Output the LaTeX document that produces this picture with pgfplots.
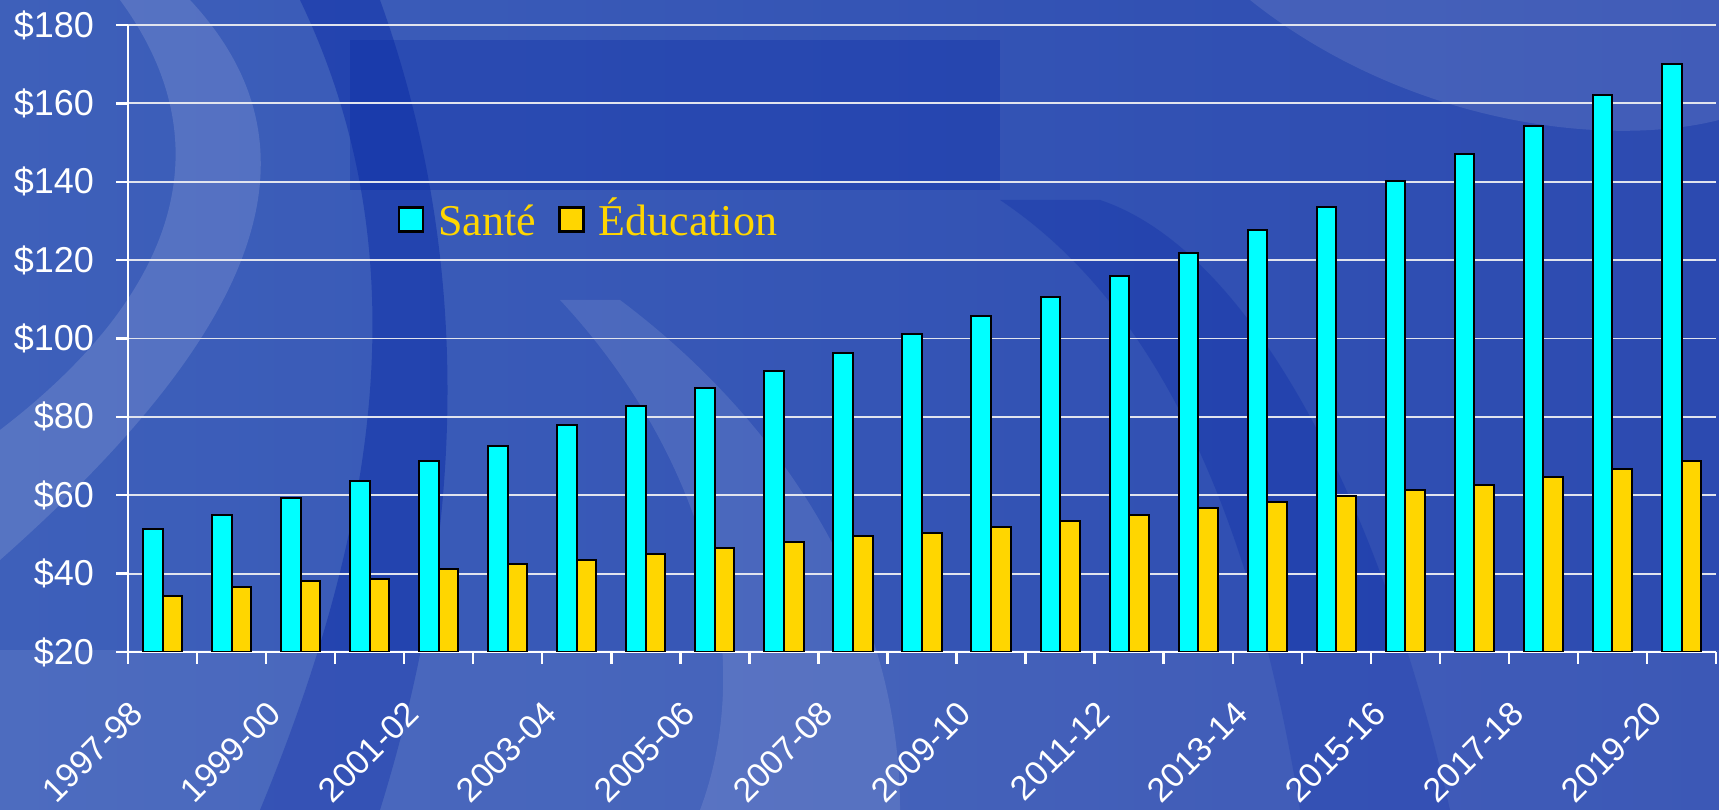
\documentclass[border=0pt]{standalone}
\usepackage{pgfplots}
\pgfplotsset{compat=1.18}
\usepackage{fontspec}
\setmainfont{Liberation Sans}
\newfontfamily\legendfont{Liberation Serif}

\definecolor{bgA}{RGB}{62,96,186}
\definecolor{bgB}{RGB}{26,58,170}
\definecolor{bgC}{RGB}{44,74,176}
\definecolor{bgDark}{RGB}{8,40,165}
\definecolor{sante}{RGB}{0,255,255}
\definecolor{educ}{RGB}{255,214,0}
\definecolor{gridc}{RGB}{225,228,238}

\pgfplotstableread{
idx sante educ
0  51.5 34.2
1  54.9 36.7
2  59.2 38.1
3  63.7 38.5
4  68.7 41.1
5  72.6 42.5
6  78.0 43.5
7  82.9 45.0
8  87.4 46.5
9  91.8 48.1
10 96.3 49.5
11 101.2 50.4
12 105.7 51.9
13 110.5 53.4
14 116.0 54.9
15 121.8 56.8
16 127.7 58.4
17 133.5 59.8
18 140.1 61.3
19 147.0 62.7
20 154.3 64.7
21 162.1 66.7
22 170.0 68.8
}\data

\begin{document}
\begin{tikzpicture}
% background (pixel grid of the reference, y down)
\useasboundingbox (0,0) rectangle (429.75pt,202.5pt);
\shade[left color=bgA, middle color=bgB, right color=bgC] (0,0) rectangle (429.75pt,202.5pt);
\begin{scope}[shift={(0,202.5pt)}, x=0.25pt, y=-0.25pt]
  \fill[white, opacity=0.13] (190,0) .. controls (330,150) and (260,330) .. (0,560)
    -- (0,430) .. controls (170,300) and (230,150) .. (120,0) -- cycle;
  \fill[bgDark, opacity=0.45] (300,0) .. controls (420,250) and (380,520) .. (260,810)
    -- (380,810) .. controls (470,520) and (470,250) .. (380,0) -- cycle;
  \fill[bgDark, opacity=0.3] (350,40) rectangle (1000,190);
  \fill[white, opacity=0.10] (560,300) .. controls (700,450) and (760,650) .. (700,810)
    -- (900,810) .. controls (900,600) and (780,420) .. (620,300) -- cycle;
  \fill[white, opacity=0.10] (1250,0) .. controls (1400,120) and (1600,150) .. (1719,120)
    -- (1719,0) -- cycle;
  \fill[bgDark, opacity=0.30] (1000,200) .. controls (1150,300) and (1250,500) .. (1300,810)
    -- (1450,810) .. controls (1380,500) and (1250,250) .. (1100,200) -- cycle;
  \fill[white, opacity=0.08] (0,650) rectangle (1719,810);
\end{scope}

\begin{axis}[
    at={(32pt,39.5pt)}, anchor=south west,
    scale only axis,
    width=397pt, height=156.75pt,
    ybar=0pt, bar width=4.9pt,
    xmin=-0.5, xmax=22.5,
    ymin=20, ymax=180,
    ytick={20,40,...,180},
    minor ytick={20,40,...,180},
    yticklabels={\$20,\$40,\$60,\$80,\$100,\$120,\$140,\$160,\$180},
    % labels end a little left of the category centres, as in the reference
    xtick={-0.5,1.5,...,21.5},
    xticklabels={1997-98,1999-00,2001-02,2003-04,2005-06,2007-08,2009-10,2011-12,2013-14,2015-16,2017-18,2019-20},
    minor xtick={-0.5,0.5,...,22.5},
    axis lines*=left,
    axis line style={white, line width=0.6pt},
    tick align=outside,
    major tick length=0pt,
    minor tick length=3pt,
    every tick/.style={white, line width=0.6pt},
    ymajorgrids,
    major grid style={gridc, line width=0.45pt},
    tick label style={white},
    yticklabel style={font=\fontsize{9}{10}\selectfont, xshift=-5pt},
    xticklabel style={font=\fontsize{8.5}{10}\selectfont, rotate=45, anchor=north east, inner sep=0pt},
    xticklabel shift=11.5pt,
    legend style={at={(0.162,0.69)}, anchor=west, draw=none, fill=none,
      legend columns=-1, text=educ,
      font=\legendfont\fontsize{11}{12}\selectfont,
      /tikz/every odd column/.append style={column sep=1.5pt},
      /tikz/every even column/.append style={column sep=3.5pt}},
    sq/.style={legend image code/.code={\draw[##1, line width=0.6pt] (0pt,-3pt) rectangle (6pt,3pt);}},
  ]
  \addplot[fill=sante, draw=black, line width=0.5pt, sq] table[x=idx, y=sante] {\data};
  \addlegendentry{\vphantom{É}Santé}
  \addplot[fill=educ, draw=black, line width=0.5pt, sq] table[x=idx, y=educ] {\data};
  \addlegendentry{Éducation}
\end{axis}
\end{tikzpicture}
\end{document}
